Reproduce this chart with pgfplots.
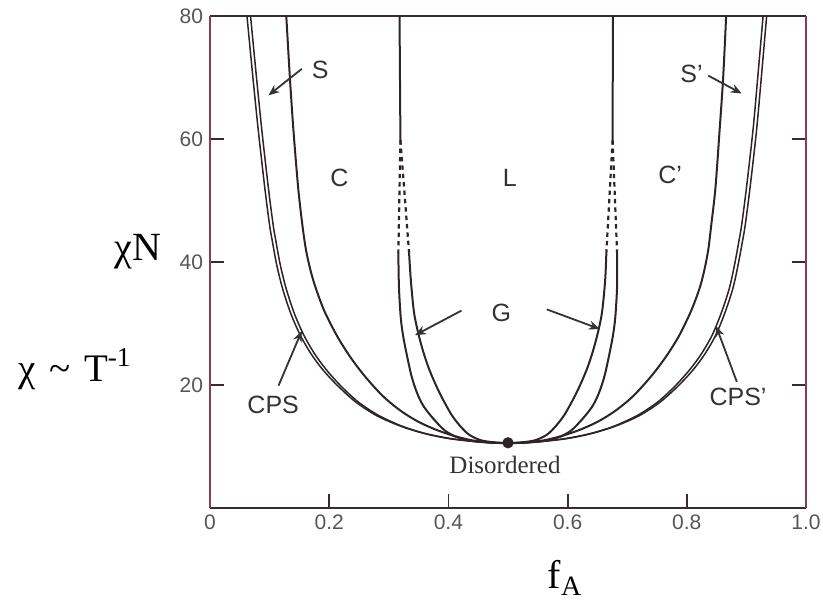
\documentclass[border=0pt]{standalone}
\usepackage{fontspec}
\setmainfont{Liberation Serif}
\setsansfont{Liberation Sans}
\usepackage{pgfplots}
\pgfplotsset{compat=1.18}
\usetikzlibrary{arrows.meta}
\definecolor{curve}{HTML}{2E2428}
\definecolor{axred}{HTML}{8A3A52}
\definecolor{axdark}{HTML}{3A2A30}
\definecolor{ticklab}{HTML}{555555}
\definecolor{labcol}{HTML}{333333}
\tikzset{
  cl/.style={color=curve, line width=1pt, smooth, tension=0.5, no markers},
  cthin/.style={color=curve, line width=0.75pt, smooth, tension=0.5, no markers},
  cdash/.style={color=curve, line width=1.1pt, no markers, dash pattern=on 2.2pt off 2pt},
  arr/.style={draw=labcol, line width=0.9pt, -{Stealth[length=5.5pt,width=4.5pt]}},
  lab/.style={font=\sffamily\fontsize{12.5}{14}\selectfont, text=labcol},
}
\begin{document}
\begin{tikzpicture}
\path[use as bounding box] (0,0) rectangle (411.5pt,302.5pt);
\begin{axis}[
  at={(105pt,48.5pt)}, anchor=south west,
  width=298pt, height=246pt, scale only axis,
  xmin=0, xmax=1, ymin=0, ymax=80,
  xtick={0,0.2,0.4,0.6,0.8,1}, xticklabels={0,0.2,0.4,0.6,0.8,1.0},
  ytick={20,40,60,80}, yticklabels={20,40,60,80},
  xtick pos=left, ytick pos=both, yticklabel pos=left,
  tick align=inside, major tick length=7pt,
  separate axis lines,
  x axis line style={draw=axdark, line width=1pt},
  y axis line style={draw=axred, line width=1pt},
  tick style={draw=axdark, line width=0.9pt},
  ticklabel style={font=\sffamily\fontsize{10.5}{12}\selectfont, text=ticklab},
  clip=false,
]
% ---------- left side ----------
% ODT (outer)
\addplot[cthin] table {
0.062 80
0.072 70
0.081 61.4
0.092 52
0.100 46
0.104 43.7
0.112 39.5
0.122 35.6
0.136 31.5
0.152 28.0
0.170 25.0
0.190 22.4
0.215 19.8
0.245 17.2
0.280 15.0
0.320 13.3
0.360 12.1
0.400 11.3
0.440 10.85
0.470 10.65
0.500 10.55
};
% CPS / S
\addplot[cthin] table {
0.068 80
0.078 70
0.087 61.4
0.098 52
0.106 46
0.110 43.7
0.118 39.5
0.128 35.6
0.142 31.5
0.158 28.0
0.176 25.0
0.195 22.5
0.219 19.9
0.248 17.3
0.282 15.1
0.321 13.35
0.360 12.15
0.400 11.35
0.440 10.85
0.470 10.65
0.500 10.55
};
% S / C
\addplot[cl] table {
0.128 80
0.134 70
0.140 61.4
0.148 52
0.155 46
0.161 42.0
0.169 38.5
0.178 35.6
0.192 32.0
0.213 28.0
0.235 24.6
0.260 21.4
0.290 18.2
0.320 15.8
0.350 14.0
0.380 12.7
0.410 11.7
0.440 11.0
0.470 10.65
0.500 10.55
};
% C / L (solid upper part)
\addplot[cl] table {
0.318 80
0.3195 59.8
};
\addplot[cdash] table {
0.3195 59.8
0.316 41.5
};
\addplot[cdash] table {
0.3195 59.8
0.334 41.5
};
% C / G
\addplot[cl] table {
0.316 41.5
0.317 36
0.320 31
0.324 28
0.330 25
0.338 21.5
0.347 18.8
0.358 16.6
0.374 14.6
0.394 12.6
0.415 11.5
0.440 10.9
0.470 10.62
0.500 10.55
};
% G / L
\addplot[cl] table {
0.334 41.5
0.337 37
0.342 32
0.348 29
0.356 26
0.366 23
0.378 20.2
0.390 17.8
0.405 15.2
0.420 13.3
0.435 11.9
0.455 11.0
0.480 10.65
0.500 10.55
};
% ---------- right side ----------
\addplot[cthin] table {
0.934 80
0.925 70
0.917 61.4
0.906 52
0.898 46
0.894 43.7
0.886 39.5
0.877 35.6
0.863 31.5
0.848 28.0
0.830 25.0
0.810 22.4
0.785 19.8
0.755 17.2
0.720 15.0
0.680 13.3
0.640 12.1
0.600 11.3
0.560 10.85
0.530 10.65
0.500 10.55
};
\addplot[cthin] table {
0.928 80
0.919 70
0.911 61.4
0.900 52
0.892 46
0.888 43.7
0.880 39.5
0.871 35.6
0.857 31.5
0.842 28.0
0.824 25.0
0.805 22.5
0.781 19.9
0.752 17.3
0.718 15.1
0.679 13.35
0.640 12.15
0.600 11.35
0.560 10.85
0.530 10.65
0.500 10.55
};
\addplot[cl] table {
0.866 80
0.861 70
0.855 61.4
0.848 52
0.841 46
0.836 42.0
0.829 38.5
0.821 35.6
0.807 32.0
0.787 28.0
0.765 24.6
0.740 21.4
0.710 18.2
0.680 15.8
0.650 14.0
0.620 12.7
0.590 11.7
0.560 11.0
0.530 10.65
0.500 10.55
};
\addplot[cl] table {
0.676 80
0.6755 59.8
};
\addplot[cdash] table {
0.6755 59.8
0.683 41.5
};
\addplot[cdash] table {
0.6755 59.8
0.665 41.5
};
\addplot[cl] table {
0.683 41.5
0.683 36
0.680 31
0.676 28
0.670 25
0.662 21.5
0.653 18.8
0.642 16.6
0.626 14.6
0.606 12.6
0.585 11.5
0.560 10.9
0.530 10.62
0.500 10.55
};
\addplot[cl] table {
0.665 41.5
0.663 37
0.658 32
0.652 29
0.644 26
0.634 23
0.622 20.2
0.610 17.8
0.595 15.2
0.580 13.3
0.565 11.9
0.545 11.0
0.520 10.65
0.500 10.55
};
% critical point
\addplot[only marks, mark=*, mark size=2.6pt, color=curve] coordinates {(0.5,10.6)};
% ---------- labels ----------
\node[lab] at (axis cs:0.185,71.2) {S};
\draw[arr] (axis cs:0.154,71.4) -- (axis cs:0.098,67.1);
\node[lab] at (axis cs:0.808,70.6) {S’};
\draw[arr] (axis cs:0.836,70.3) -- (axis cs:0.892,67.4);
\node[lab] at (axis cs:0.217,53.6) {C};
\node[lab] at (axis cs:0.772,54.2) {C’};
\node[lab] at (axis cs:0.503,53.6) {L};
\node[lab] at (axis cs:0.489,31.8) {G};
\draw[arr] (axis cs:0.422,32.1) -- (axis cs:0.344,28.1);
\draw[arr] (axis cs:0.565,32.3) -- (axis cs:0.654,29.1);
\node[lab] at (axis cs:0.106,16.7) {CPS};
\draw[arr] (axis cs:0.115,19.9) -- (axis cs:0.154,28.8);
\node[lab] at (axis cs:0.886,18.1) {CPS’};
\draw[arr] (axis cs:0.884,20.5) -- (axis cs:0.849,29.6);
\node[font=\fontsize{12.5}{14}\selectfont, text=labcol] at (axis cs:0.495,7.0) {Disordered};
\end{axis}
\node[font=\fontsize{20}{22}\selectfont] at (69pt,176.5pt) {χN};
\node[font=\fontsize{19.5}{22}\selectfont] at (37.5pt,118pt) {χ\hspace{0.35em}\textasciitilde\hspace{0.35em}T\textsuperscript{-1}};
\node[font=\fontsize{20}{22}\selectfont] at (282.5pt,13.5pt) {f\textsubscript{A}};
\end{tikzpicture}
\end{document}
